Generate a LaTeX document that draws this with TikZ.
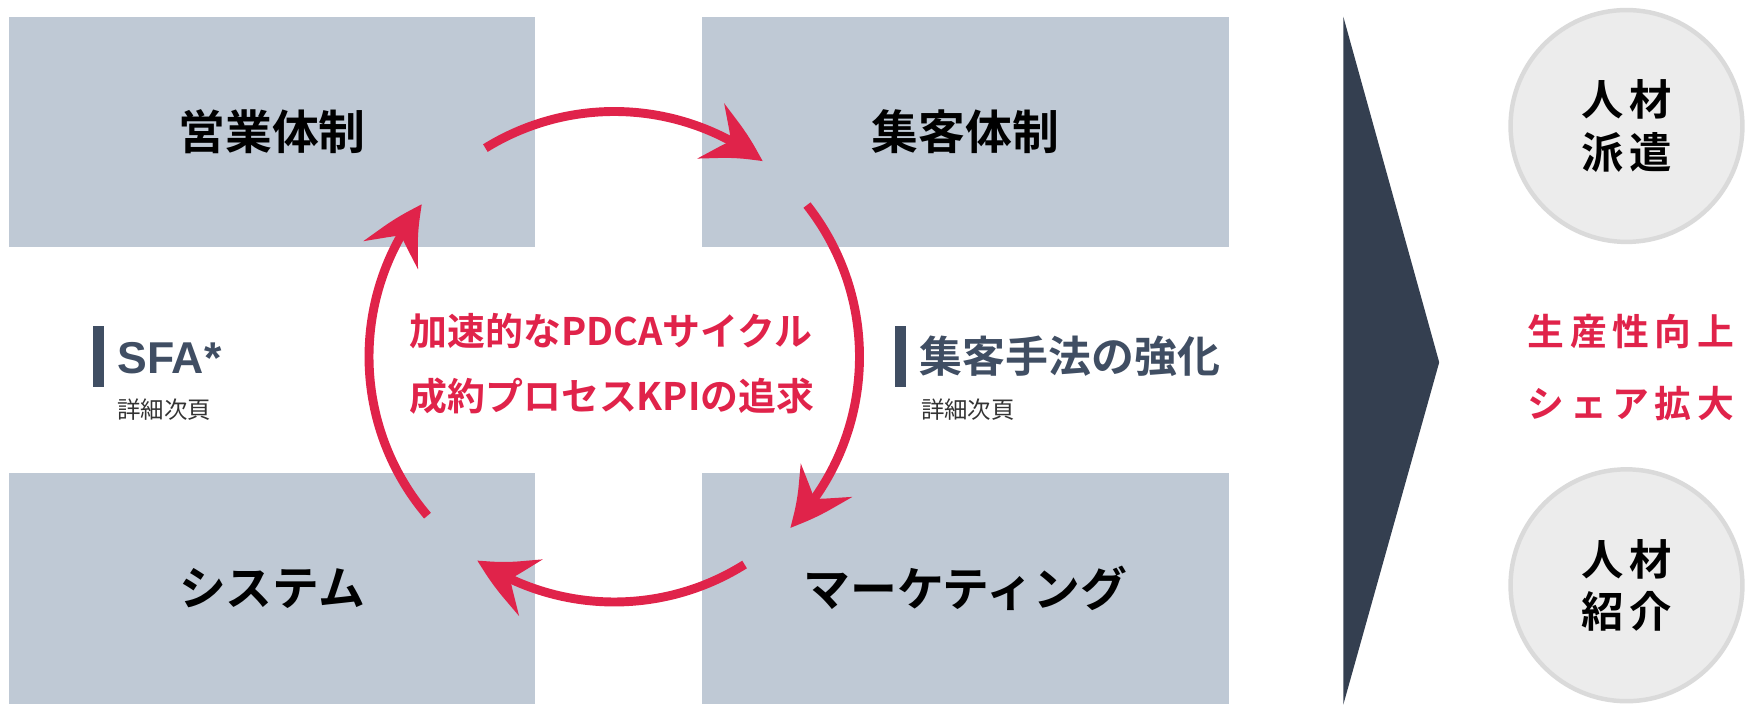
\documentclass[tikz,border=0pt]{standalone}
\usepackage{fontspec}
\newfontfamily\jp{Noto Sans CJK JP}
\newfontfamily\jpb{Noto Sans CJK JP Bold}
\newfontfamily\jpbs{Noto Sans CJK JP Bold}[LetterSpace=12]
\newfontfamily\jpbo{Noto Sans CJK JP Bold}[LetterSpace=15]
\newfontfamily\latb{Liberation Sans Bold}
\usetikzlibrary{arrows.meta,bending}
\definecolor{boxgray}{RGB}{191,201,213}
\definecolor{cred}{RGB}{224,35,74}
\definecolor{navy}{RGB}{52,63,80}
\definecolor{slate}{RGB}{64,78,99}
\definecolor{ringfill}{RGB}{236,236,236}
\definecolor{ringline}{RGB}{218,218,218}
\definecolor{subtext}{RGB}{51,51,51}
\begin{document}
\begin{tikzpicture}[x=1pt,y=1pt,
  box/.style={fill=boxgray, minimum width=472pt, minimum height=207pt, inner sep=0pt,
    font=\jpb\fontsize{42pt}{50pt}\selectfont, text=black},
  cyc/.style={draw=cred, line width=8pt, -{Stealth[length=54pt,width=54pt,inset=20pt,bend]}},
  redtxt/.style={text=cred, inner sep=0pt, font=\jpb\fontsize{34pt}{40pt}\selectfont},
  outcome/.style={text=cred, inner sep=0pt, font=\jpbo\fontsize{33pt}{40pt}\selectfont},
  ring/.style={circle, fill=ringfill, draw=ringline, line width=4pt, minimum size=208pt,
    inner sep=0pt, align=center, font=\jpbs\fontsize{38pt}{47pt}\selectfont, text=black},
  bar/.style={fill=slate},
  head/.style={anchor=west, inner sep=0pt, text=slate, font=\jpb\fontsize{38.5pt}{44pt}\selectfont},
  headlat/.style={anchor=west, inner sep=0pt, text=slate, font=\latb\fontsize{40pt}{44pt}\selectfont},
  sub/.style={anchor=west, inner sep=0pt, text=subtext, font=\jp\fontsize{21pt}{25pt}\selectfont}
]
\useasboundingbox (0,0) rectangle (1568,-635);

% four boxes
\node[box] (sales) at (244,-118.5) {営業体制};
\node[box] (attract) at (866,-118.5) {集客体制};
\node[box] (system) at (244,-528) {\raisebox{3pt}{システム}};
\node[box] (marketing) at (866,-528) {\raisebox{3pt}{マーケティング}};

% cycle arrows
\coordinate (ctr) at (551,-320);
\draw[cyc] ([shift={(121.7:220)}]ctr) arc[start angle=121.7, end angle=52.8, radius=220];
\draw[cyc] ([shift={(38.2:220)}]ctr) arc[start angle=38.2, end angle=-44.2, radius=220];
\draw[cyc] ([shift={(-57.9:220)}]ctr) arc[start angle=-57.9, end angle=-123.9, radius=220];
\draw[cyc] ([shift={(-139.6:220)}]ctr) arc[start angle=-139.6, end angle=-218.4, radius=220];

% center text
\node[redtxt] (pdca) at (548,-297) {加速的なPDCAサイクル};
\node[redtxt] (kpi) at (549,-355) {成約プロセスKPIの追求};

% side labels
\fill[bar] (83,-292) rectangle (93,-347);
\node[headlat] (sfa) at (105,-321) {SFA*};
\node[sub] (sfasub) at (105,-367) {詳細次頁};
\fill[bar] (803,-292) rectangle (813,-347);
\node[head] (method) at (825,-320) {集客手法の強化};
\node[sub] (methodsub) at (826,-367) {詳細次頁};

% chevron
\fill[navy] (1205,-15) -- (1291,-325) -- (1205,-632) -- cycle;

% outcomes
\node[ring] (haken) at (1459,-113) {人材\\派遣};
\node[ring] (shokai) at (1459,-525) {人材\\紹介};
\node[outcome] (seisan) at (1463,-297) {生産性向上};
\node[outcome] (share) at (1463,-362) {シェア拡大};
\end{tikzpicture}
\end{document}
